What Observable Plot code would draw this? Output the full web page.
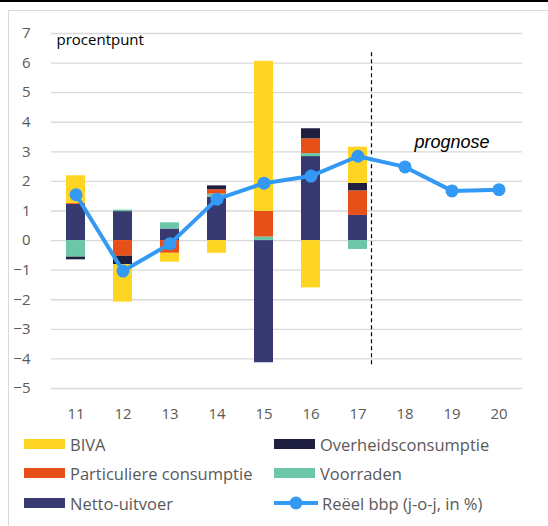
<!DOCTYPE html>
<html><head><meta charset="utf-8">
<script src="https://cdn.jsdelivr.net/npm/d3@7"></script>
<script src="https://cdn.jsdelivr.net/npm/@observablehq/plot@0.6"></script>
<style>
body{margin:0;background:#fff;}
#wrap{position:relative;width:548px;height:526px;overflow:hidden;font-family:"Open Sans", sans-serif;}
#topline{position:absolute;left:0;top:0;width:548px;height:2px;background:#000;}
#frame{position:absolute;left:8px;top:10px;width:600px;height:600px;border:1px solid #d9d9d9;}
#chart{position:absolute;left:0;top:0;}
#legend{position:absolute;left:0;top:0;width:548px;height:526px;pointer-events:none;}
.item{position:absolute;display:flex;align-items:center;height:20px;font-size:16.5px;color:#595959;white-space:nowrap;}
.sw{width:41px;height:10px;margin-right:5px;}
</style></head>
<body><div id="wrap"><div id="topline"></div><div id="frame"></div><div id="chart"></div><div id="legend"></div></div>
<script>
const years = ["11","12","13","14","15","16","17","18","19","20"];
const barYears = ["11","12","13","14","15","16","17"];
const seriesNames = ["Netto-uitvoer","Voorraden","Particuliere consumptie","Overheidsconsumptie","BIVA"];
const seriesColors = ["#363a70","#6cc7a8","#e8501a","#1f2041","#fed523"];
const netto =        [1.22, 0.98, 0.39, 1.47, -4.13, 2.84, 0.85];
const voorraden =    [-0.56, 0.05, 0.21, 0.10, 0.12, 0.10, -0.30];
const particuliere = [0.03, -0.53, -0.43, 0.15, 0.87, 0.50, 0.83];
const overheid =     [-0.09, -0.28, 0.00, 0.13, 0.00, 0.34, 0.25];
const biva =         [0.94, -1.27, -0.30, -0.43, 5.07, -1.60, 1.23];
const bbp = [1.55, -1.03, -0.11, 1.40, 1.94, 2.18, 2.85, 2.49, 1.68, 1.72];
const bbpName = "Reëel bbp (j-o-j, in %)";
const bbpColor = "#3399f5";
const yTicks = [-5,-4,-3,-2,-1,0,1,2,3,4,5,6,7];
const prognoseYear = ["17"];
const prognoseSpan = [6.35, -4.2];
const prognoseLabel = [{year:"19", value:3.33, text:"prognose"}];
const unitLabel = ["procentpunt"];

const seriesValues = [netto, voorraden, particuliere, overheid, biva];
const rows = [];
seriesNames.forEach((s, i) => barYears.forEach((y, j) => rows.push({year: y, series: s, value: seriesValues[i][j]})));
const lineRows = years.map((y, i) => ({year: y, value: bbp[i]}));

const chart = Plot.plot({
  width: 548, height: 430,
  marginLeft: 51, marginRight: 26, marginTop: 33, marginBottom: 42,
  style: {fontFamily: "'Open Sans', sans-serif", fontSize: "15px", color: "#595959", background: "transparent", overflow: "visible"},
  x: {type: "band", domain: years, paddingInner: 0.6, paddingOuter: 0.3, label: null},
  y: {domain: [-5, 7], label: null},
  color: {domain: seriesNames, range: seriesColors},
  marks: [
    Plot.gridY(yTicks, {stroke: "#d9d9d9", strokeOpacity: 1, strokeWidth: 1.4}),
    Plot.axisY(yTicks, {tickSize: 0, tickPadding: 21, fontSize: 15, fill: "#595959", label: null}),
    Plot.axisX({tickSize: 0, tickPadding: 20, fontSize: 15, fill: "#595959", label: null}),
    Plot.barY(rows, {x: "year", y: "value", fill: "series", order: seriesNames}),
    Plot.ruleX(prognoseYear, {y1: prognoseSpan[0], y2: prognoseSpan[1], dx: 13.5, stroke: "#000", strokeWidth: 1.2, strokeDasharray: "4,3"}),
    Plot.line(lineRows, {x: "year", y: "value", stroke: bbpColor, strokeWidth: 4}),
    Plot.dot(lineRows, {x: "year", y: "value", fill: bbpColor, r: 6.5}),
    Plot.text(unitLabel, {frameAnchor: "top-left", text: d => d, dx: 5, dy: 7, lineAnchor: "middle", textAnchor: "start", fill: "#000", fontSize: 15}),
    Plot.text(prognoseLabel, {x: "year", y: "value", text: "text", fill: "#000", fontSize: 18, fontStyle: "italic", fontFamily: "'Liberation Sans', Arial, sans-serif"})
  ]
});
document.getElementById("chart").appendChild(chart);

// legend
const legend = document.getElementById("legend");
const items = [
  {name: "BIVA", color: seriesColors[4], col: 0, row: 0},
  {name: "Overheidsconsumptie", color: seriesColors[3], col: 1, row: 0},
  {name: "Particuliere consumptie", color: seriesColors[2], col: 0, row: 1},
  {name: "Voorraden", color: seriesColors[1], col: 1, row: 1},
  {name: "Netto-uitvoer", color: seriesColors[0], col: 0, row: 2},
  {name: bbpName, color: bbpColor, col: 1, row: 2, line: true}
];
const colX = [24, 274], rowY = [434, 463, 493];
items.forEach(it => {
  const d = document.createElement("div");
  d.className = "item";
  d.style.left = colX[it.col] + "px";
  d.style.top = rowY[it.row] + "px";
  if (it.line) {
    d.innerHTML = `<svg width="46" height="20" style="margin-right:2px"><line x1="0" x2="44" y1="10" y2="10" stroke="${it.color}" stroke-width="4"/><circle cx="22" cy="10" r="6.5" fill="${it.color}"/></svg>`;
  } else {
    d.innerHTML = `<div class="sw" style="background:${it.color}"></div>`;
  }
  const t = document.createElement("span");
  t.textContent = it.name;
  d.appendChild(t);
  legend.appendChild(d);
});
</script></body></html>
